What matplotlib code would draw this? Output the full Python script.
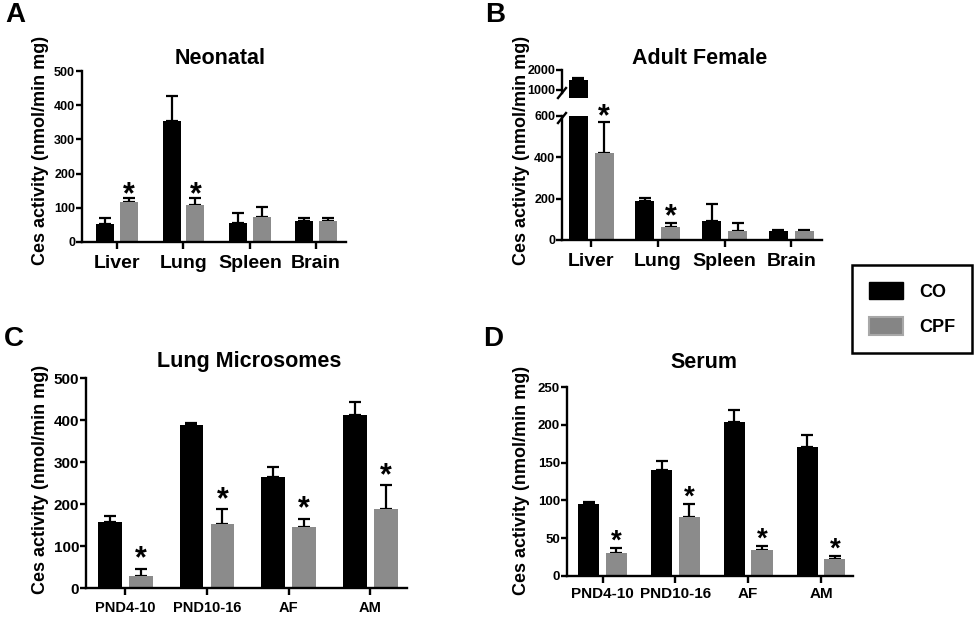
import numpy as np
import matplotlib
matplotlib.use("Agg")
import matplotlib.pyplot as plt
from matplotlib.patches import Patch

plt.rcParams['font.family'] = ['Liberation Sans', 'DejaVu Sans']
plt.rcParams['font.weight'] = 'bold'

W, H = 975, 617

# panel A - neonatal
organs = ['Liver', 'Lung', 'Spleen', 'Brain']
co_a = [53, 353, 57, 62]
co_a_err = [16, 73, 29, 7]
cpf_a = [118, 108, 73, 62]
cpf_a_err = [11, 21, 30, 7]
star_a = [True, True, False, False]

# panel B - adult female (broken axis)
co_b = [1500, 189, 93, 42]
co_b_err = [80, 13, 81, 6]
cpf_b = [420, 64, 45, 44]
cpf_b_err = [150, 20, 39, 5]
star_b = [True, True, False, False]

# panel C - lung microsomes
groups = ['PND4-10', 'PND10-16', 'AF', 'AM']
co_c = [158, 388, 265, 412]
co_c_err = [14, 6, 23, 32]
cpf_c = [28, 153, 146, 188]
cpf_c_err = [18, 35, 19, 57]
star_c = [True, True, True, True]

# panel D - serum
co_d = [95, 140, 204, 170]
co_d_err = [2.5, 12.5, 16, 16.5]
cpf_d = [30, 78, 34, 22]
cpf_d_err = [6.5, 17.5, 6, 4.5]
star_d = [True, True, True, True]

BLACK = '#000000'
GRAY = '#8b8b8b'
YLABEL = 'Ces activity (nmol/min mg)'


def px_axes(fig, x0, x1, ytop, ybot):
    return fig.add_axes([x0 / W, 1 - ybot / H, (x1 - x0) / W, (ybot - ytop) / H])


def style_axes(ax, xsize, ysize, xpad=5):
    for s in ['top', 'right']:
        ax.spines[s].set_visible(False)
    for s in ['left', 'bottom']:
        ax.spines[s].set_linewidth(1.7)
    ax.tick_params(axis='y', length=4, width=1.7, pad=1, labelsize=ysize)
    ax.tick_params(axis='x', length=5, width=1.7, pad=xpad, labelsize=xsize)
    for lab in ax.get_xticklabels() + ax.get_yticklabels():
        lab.set_fontweight('bold')


def draw_bars(ax, co, co_err, cpf, cpf_err, off, width, cpf_errbars=True):
    x = np.arange(len(co))
    ax.bar(x - off, co, width, color=BLACK, zorder=2)
    ax.bar(x + off, cpf, width, color=GRAY, zorder=2)
    ax.errorbar(x - off, co, yerr=[np.zeros(len(co)), co_err], fmt='none',
                ecolor=BLACK, elinewidth=1.6, capsize=4, capthick=1.6, zorder=1)
    if cpf_errbars:
        ax.errorbar(x + off, cpf, yerr=[np.zeros(len(cpf)), cpf_err], fmt='none',
                    ecolor=BLACK, elinewidth=1.6, capsize=4, capthick=1.6, zorder=1)
    return x


def draw_stars(ax, x, vals, errs, flags, off, gap, size):
    for xi, v, e, f in zip(x, vals, errs, flags):
        if f:
            ax.annotate('*', xy=(xi + off, v + e), xytext=(0, gap - 0.39 * size),
                        textcoords='offset points', ha='center', va='baseline',
                        fontsize=size, fontweight='bold', annotation_clip=False)


fig = plt.figure(figsize=(W / 100, H / 100), dpi=100)

# ---- A
ax = px_axes(fig, 82, 346, 71, 242)
x = draw_bars(ax, co_a, co_a_err, cpf_a, cpf_a_err, 0.18, 0.27)
draw_stars(ax, x, cpf_a, cpf_a_err, star_a, 0.18, 4.5, 22)
ax.set_xlim(-0.53, 3.45)
ax.set_ylim(0, 500)
ax.set_yticks(range(0, 501, 100))
ax.set_xticks(x)
ax.set_xticklabels(organs)
style_axes(ax, 14, 9, xpad=4)

# ---- B (broken y axis)
axl = px_axes(fig, 562, 822, 116, 240)
axu = px_axes(fig, 562, 822, 70, 98)
x = draw_bars(axl, co_b, co_b_err, cpf_b, cpf_b_err, 0.195, 0.285)
draw_bars(axu, co_b, co_b_err, cpf_b, cpf_b_err, 0.195, 0.285, cpf_errbars=False)
for a in (axl, axu):
    a.set_xlim(-0.435, 3.46)
draw_stars(axl, x, cpf_b, cpf_b_err, star_b, 0.195, 6.5, 22)
axl.set_ylim(0, 600)
axl.set_yticks([0, 200, 400, 600])
axl.set_xticks(x)
axl.set_xticklabels(organs)
style_axes(axl, 14, 9, xpad=4)
axu.set_ylim(600, 2000)
axu.set_yticks([1000, 2000])
style_axes(axu, 14, 9)
axu.spines['bottom'].set_visible(False)
axu.spines['left'].set_bounds(850, 2000)
axu.set_xticks([])
# break marks
bx = 562 / W
for yc in (93, 118):
    fig.add_artist(plt.Line2D([bx - 4 / W, bx + 4 / W],
                              [1 - (yc + 5) / H, 1 - (yc - 5) / H],
                              color='black', lw=1.7))

# ---- C
ax = px_axes(fig, 86, 407, 378, 588)
x = draw_bars(ax, co_c, co_c_err, cpf_c, cpf_c_err, 0.19, 0.29)
draw_stars(ax, x, cpf_c, cpf_c_err, star_c, 0.19, 9.5, 22)
ax.set_xlim(-0.48, 3.45)
ax.set_ylim(0, 500)
ax.set_yticks(range(0, 501, 100))
ax.set_xticks(x)
ax.set_xticklabels(groups)
style_axes(ax, 10.5, 11, xpad=4)

# ---- D
ax = px_axes(fig, 567, 853, 387, 576)
x = draw_bars(ax, co_d, co_d_err, cpf_d, cpf_d_err, 0.19, 0.29)
draw_stars(ax, x, cpf_d, cpf_d_err, star_d, 0.19, 7.5, 20)
ax.set_xlim(-0.49, 3.44)
ax.set_ylim(0, 250)
ax.set_yticks(range(0, 251, 50))
ax.set_xticks(x)
ax.set_xticklabels(groups)
style_axes(ax, 11, 9.5, xpad=3)

# titles, panel letters, y labels
for txt, cx, cy in [('Neonatal', 220, 59), ('Adult Female', 700, 58),
                    ('Lung Microsomes', 249, 362), ('Serum', 704, 362)]:
    fig.text(cx / W, 1 - cy / H, txt, ha='center', va='center',
             fontsize=15.5, fontweight='bold')
for txt, cx, cy in [('A', 15, 15), ('B', 495, 15), ('C', 14, 339), ('D', 493, 339)]:
    fig.text(cx / W, 1 - cy / H, txt, ha='center', va='center',
             fontsize=20, fontweight='bold')
for cx, cy in [(41, 150), (521, 150), (41, 479), (521, 480)]:
    fig.text(cx / W, 1 - cy / H, YLABEL, ha='center', va='center', rotation=90,
             fontsize=13, fontweight='bold')

# legend
handles = [Patch(facecolor=BLACK, edgecolor=BLACK, label='CO'),
           Patch(facecolor='#858585', edgecolor='#a8a8a8', linewidth=1.5, label='CPF')]
leg = fig.legend(handles=handles, loc='upper left',
                 bbox_to_anchor=(852 / W, 1 - 265 / H), borderaxespad=0,
                 handlelength=1.85, handleheight=1.1,
                 handletextpad=0.9, labelspacing=0.9, borderpad=0.95,
                 fancybox=False, edgecolor='black', framealpha=1,
                 prop={'weight': 'bold', 'size': 13})
leg.get_frame().set_linewidth(1.8)

fig.savefig('out.png', dpi=100)
